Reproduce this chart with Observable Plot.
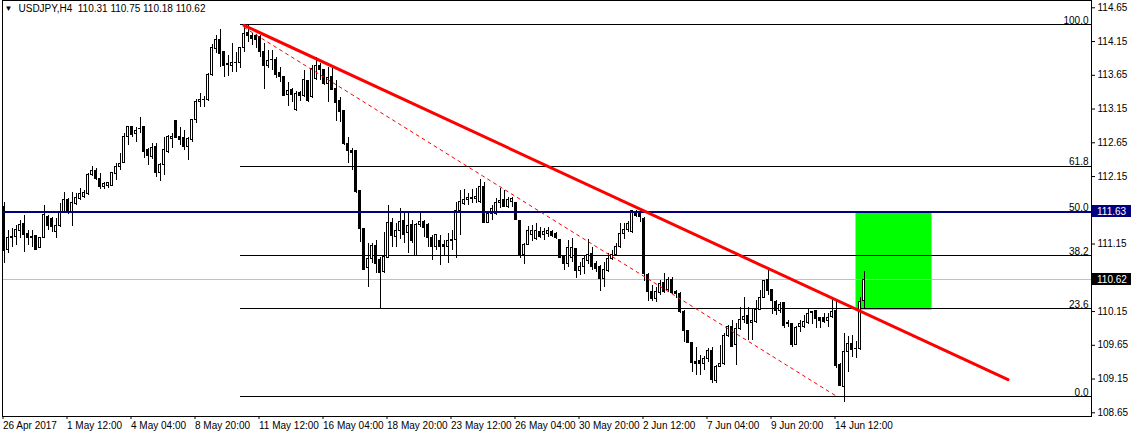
<!DOCTYPE html>
<html>
<head>
<meta charset="utf-8">
<script src="https://cdn.jsdelivr.net/npm/d3@7"></script>
<script src="https://cdn.jsdelivr.net/npm/@observablehq/plot@0.6"></script>
<style>
html,body{margin:0;padding:0;background:#fff;}
svg{display:block;}
</style>
</head>
<body>
<div id="chart"></div>
<script>
const symbol = "USDJPY";
const timeframe = "H4";

// H4 candles (bar 0 = first visible bar)
const opens = [111.70,111.055,111.24,111.252,111.341,111.44,111.292,111.25,111.262,111.094,
111.242,111.548,111.52,111.326,111.41,111.608,111.805,111.608,111.736,111.82,
111.845,111.894,112.166,112.23,112.116,111.993,112.017,112.017,112.181,112.289,
112.349,112.743,112.882,112.773,112.852,112.882,112.536,112.437,112.595,112.2,
112.314,112.511,112.709,112.971,112.743,112.724,112.595,112.694,112.981,113.252,
113.287,113.277,113.647,114.042,114.176,113.993,113.80,113.795,113.835,113.835,
114.052,114.279,114.23,114.23,114.215,113.993,113.785,113.87,113.87,113.687,
113.622,113.361,113.425,113.129,113.39,113.341,113.558,113.326,113.588,113.795,
113.721,113.524,113.622,113.449,113.267,113.128,112.625,112.526,112.526,111.933,
111.375,110.797,110.931,111.128,110.916,110.733,110.946,111.459,111.252,111.35,
111.488,111.311,111.425,110.98,111.439,111.479,111.425,111.242,111.104,111.202,
111.143,111.113,111.192,111.212,111.637,111.745,111.804,111.82,111.82,111.77,
112.002,111.459,111.597,111.597,111.755,111.804,111.696,111.77,111.755,111.498,
110.995,111.143,111.291,111.227,111.326,111.291,111.30,111.326,111.301,111.212,
110.966,110.847,110.946,111.079,110.748,110.807,110.906,111.005,110.857,110.817,
110.635,110.748,110.931,110.995,111.104,111.301,111.36,111.326,111.622,111.607,
111.523,110.684,110.437,110.339,110.422,110.571,110.462,110.61,110.437,110.413,
110.141,109.86,109.682,109.40,109.415,109.376,109.45,109.564,109.119,109.326,
109.366,109.795,109.919,109.647,109.894,110.018,110.077,109.98,110.00,110.175,
110.353,110.61,110.471,110.289,110.155,110.274,109.978,109.958,109.661,109.918,
109.928,109.978,110.126,110.155,110.057,110.057,110.007,110.067,110.155,109.365,
109.039,109.548,109.672,109.59,109.59,110.31];
const highs = [111.77,111.351,111.376,111.425,111.499,111.573,111.351,111.351,111.262,111.242,
111.721,111.573,111.548,111.524,111.746,111.919,111.82,111.919,111.894,111.968,
111.944,112.19,112.299,112.264,112.19,112.067,112.067,112.215,112.339,112.487,
112.783,112.892,112.892,112.872,113.03,112.882,112.561,112.645,112.635,112.349,
112.734,112.758,112.793,112.981,112.882,112.832,112.734,112.99,113.287,113.376,
113.336,113.672,114.106,114.24,114.324,113.993,113.943,114.116,113.983,114.067,
114.363,114.40,114.265,114.25,114.24,114.116,114.017,114.017,113.919,113.77,
113.622,113.548,113.45,113.41,113.41,113.721,113.573,113.795,113.919,113.82,
113.721,113.77,113.746,113.573,113.326,113.128,112.733,112.56,112.526,111.933,
111.375,111.153,111.163,111.202,110.946,111.326,111.721,111.523,111.449,111.672,
111.597,111.622,111.498,111.449,111.597,111.498,111.449,111.277,111.277,111.276,
111.202,111.30,111.35,111.77,111.943,111.953,111.893,111.953,111.968,112.10,
112.066,111.597,111.72,111.82,111.968,111.943,111.844,111.834,111.755,111.498,
111.153,111.409,111.424,111.449,111.40,111.375,111.40,111.35,111.326,111.212,
110.98,111.202,111.227,111.079,110.881,110.98,111.212,111.104,110.896,110.832,
110.881,111.005,111.054,111.153,111.449,111.449,111.489,111.647,111.647,111.647,
111.548,110.709,110.536,110.511,110.61,110.709,110.66,110.66,110.462,110.437,
110.166,109.87,109.697,109.623,109.499,109.484,109.598,109.613,109.351,109.647,
109.82,109.944,110.018,109.968,110.205,110.363,110.215,110.19,110.313,110.461,
110.61,110.782,110.471,110.313,110.289,110.274,110.017,109.958,109.928,110.017,
110.091,110.19,110.155,110.165,110.067,110.116,110.116,110.363,110.313,109.375,
109.829,109.78,109.79,109.70,110.36,110.75];
const lows = [110.86,111.005,111.104,111.129,111.227,111.03,111.129,111.104,111.055,111.08,
111.227,111.351,111.326,111.227,111.40,111.598,111.59,111.41,111.72,111.80,
111.82,111.87,112.15,112.09,111.954,111.954,111.968,112.00,112.092,112.24,
112.339,112.61,112.734,112.66,112.793,112.413,112.314,112.398,112.141,112.082,
112.166,112.487,112.561,112.709,112.61,112.536,112.388,112.66,112.931,113.168,
113.168,113.267,113.632,113.968,113.77,113.622,113.637,113.687,113.687,113.746,
113.993,114.141,114.09,114.05,113.919,113.44,113.756,113.72,113.598,113.548,
113.34,113.193,113.243,113.114,113.26,113.326,113.252,113.31,113.573,113.573,
113.50,113.252,113.424,112.97,112.956,112.61,112.348,112.24,111.894,111.178,
110.758,110.501,110.857,110.718,110.19,110.718,110.931,111.104,111.104,111.212,
111.153,111.015,111.153,110.965,111.40,111.25,111.094,110.906,111.054,110.832,
110.98,110.856,111.054,110.93,111.276,111.72,111.72,111.745,111.745,111.745,
111.449,111.449,111.498,111.572,111.671,111.696,111.671,111.696,111.498,110.93,
110.846,111.128,111.192,111.202,111.227,111.202,111.25,111.242,111.212,110.931,
110.758,110.807,110.882,110.634,110.684,110.699,110.847,110.758,110.733,110.452,
110.501,110.733,110.906,110.98,111.079,111.212,111.326,111.311,111.548,111.474,
110.60,110.304,110.304,110.29,110.388,110.422,110.437,110.403,110.339,110.126,
109.697,109.672,109.252,109.203,109.203,109.277,109.40,109.09,109.09,109.316,
109.351,109.771,109.623,109.351,109.87,109.968,109.721,109.72,109.978,110.165,
110.338,110.388,110.106,110.091,110.116,109.894,109.909,109.612,109.647,109.845,
109.894,109.958,109.958,109.894,109.894,109.968,109.909,110.042,109.301,109.054,
108.80,109.25,109.47,109.45,109.58,110.18];
const closes = [111.05,111.242,111.25,111.351,111.425,111.277,111.242,111.24,111.065,111.242,
111.573,111.41,111.40,111.41,111.608,111.805,111.608,111.756,111.835,111.884,
111.904,112.166,112.23,112.116,111.993,112.042,112.052,112.20,112.289,112.339,
112.743,112.882,112.758,112.832,112.857,112.511,112.447,112.576,112.20,112.314,
112.536,112.743,112.734,112.724,112.694,112.595,112.709,112.981,113.252,113.287,
113.29,113.647,114.057,114.176,113.968,113.785,113.81,113.835,113.838,114.052,
114.264,114.23,114.19,114.18,113.993,113.795,113.855,113.875,113.657,113.622,
113.341,113.41,113.361,113.376,113.34,113.573,113.262,113.746,113.785,113.721,
113.524,113.608,113.434,113.237,113.104,112.635,112.526,112.506,111.918,111.375,
110.768,110.931,111.128,110.857,110.718,110.955,111.459,111.262,111.35,111.474,
111.291,111.41,111.202,111.439,111.479,111.39,111.242,111.104,111.277,111.104,
111.113,111.192,111.212,111.637,111.77,111.804,111.834,111.834,111.854,112.002,
111.459,111.597,111.671,111.755,111.794,111.706,111.804,111.82,111.508,110.995,
111.143,111.34,111.34,111.34,111.261,111.326,111.34,111.262,111.242,110.946,
110.847,111.094,111.094,110.748,110.817,110.931,110.995,110.807,110.783,110.635,
110.758,110.931,110.995,111.104,111.301,111.36,111.449,111.637,111.558,111.548,
110.709,110.437,110.339,110.437,110.561,110.437,110.62,110.422,110.413,110.141,
109.86,109.682,109.386,109.376,109.366,109.45,109.564,109.129,109.326,109.366,
109.795,109.919,109.632,109.894,110.018,110.067,109.968,110.017,110.175,110.353,
110.60,110.452,110.304,110.165,110.254,109.943,109.958,109.647,109.908,109.958,
109.992,110.116,110.141,110.042,110.017,109.992,110.057,110.141,109.336,109.054,
109.548,109.672,109.583,109.598,110.29,110.62];

// time axis labels and the bars they sit on
const dateLabels = ["26 Apr 2017","1 May 12:00","4 May 04:00","8 May 20:00","11 May 12:00","16 May 04:00",
"18 May 20:00","23 May 12:00","26 May 04:00","30 May 20:00","2 Jun 12:00","7 Jun 04:00","9 Jun 20:00","14 Jun 12:00"];
const dateLabelBars = [0,16,32,48,64,80,96,112,128,144,160,176,192,208];

// price axis tick labels
const priceTicks = [114.65,114.15,113.65,113.15,112.65,112.15,111.15,110.15,109.65,109.15,108.65];

// drawn objects
const fibLevels = [
  {label:"100.0", price:114.40},
  {label:"61.8", price:112.30},
  {label:"50.0", price:111.63},
  {label:"38.2", price:110.98},
  {label:"23.6", price:110.19},
  {label:"0.0", price:108.89}
];
const fibStartBar = 59;
const trendSolid = [{bar:60, price:114.39},{bar:251, price:109.14}];
const trendDashed = [{bar:60, price:114.36},{bar:208, price:108.90}];
const targetBox = [{bar1:213, bar2:232, top:111.63, bottom:110.17}];
const levelLine = 111.63;
const bidLine = 110.62;
const priceTags = [{price:111.63, bg:"#000080"},{price:110.62, bg:"#000000"}];

const candles = opens.map((o,i)=>({bar:i, open:o, high:highs[i], low:lows[i], close:closes[i]}));
const last = candles[candles.length-1];
const titleText = `${symbol},${timeframe}  ${last.open.toFixed(2)} ${last.high.toFixed(2)} ${last.low.toFixed(2)} ${last.close.toFixed(2)}`;

const xDomain = [-0.375, 271.875];
const yDomain = [108.595, 114.758];
const FONT = "'Liberation Sans', Arial, sans-serif";

function tagMark(index, scales, values, dimensions) {
  const g = d3.create("svg:g").attr("text-anchor", "start");
  const x0 = dimensions.width - dimensions.marginRight + 1;
  for (const t of priceTags) {
    const y = Math.round(scales.y(t.price));
    g.append("rect").attr("x", x0).attr("y", y - 6).attr("width", dimensions.marginRight).attr("height", 12).attr("fill", t.bg);
    g.append("text").attr("x", x0 + 5).attr("y", y).attr("dy", "0.35em").attr("text-anchor", "start")
      .attr("fill", "#fff").attr("font-size", 10).attr("font-family", FONT).text(t.price.toFixed(2));
  }
  return g.node();
}

const chart = Plot.plot({
  width: 1131,
  height: 437,
  marginLeft: 2,
  marginRight: 40,
  marginTop: 0,
  marginBottom: 21,
  style: {fontFamily: FONT, fontSize: "10px", background: "#fff", color: "#000"},
  x: {domain: xDomain},
  y: {domain: yDomain},
  marks: [
    Plot.rect(targetBox, {x1: "bar1", x2: "bar2", y1: "top", y2: "bottom", fill: "#00ff00"}),
    Plot.ruleY([bidLine], {stroke: "#c0c0c0", shapeRendering: "crispEdges"}),
    Plot.ruleY(fibLevels, {y: "price", x1: fibStartBar, x2: xDomain[1], stroke: "#000", shapeRendering: "crispEdges"}),
    Plot.text(fibLevels, {y: "price", text: "label", frameAnchor: "right", textAnchor: "end", lineAnchor: "bottom", dx: -3, dy: -1, fill: "#000", fontSize: 10}),
    Plot.ruleX(candles, {x: "bar", y1: "low", y2: "high", stroke: "#000", shapeRendering: "crispEdges"}),
    Plot.rect(candles, {x1: d => d.bar - 0.25, x2: d => d.bar + 0.25, y1: "open", y2: "close",
      fill: d => d.close >= d.open ? "#fff" : "#000", stroke: "#000", strokeWidth: 1, shapeRendering: "crispEdges"}),
    Plot.ruleY([levelLine], {stroke: "#000080", strokeWidth: 2, shapeRendering: "crispEdges"}),
    Plot.line(trendSolid, {x: "bar", y: "price", stroke: "#ff0000", strokeWidth: 3}),
    Plot.line(trendDashed, {x: "bar", y: "price", stroke: "#ff0000", strokeWidth: 1, strokeDasharray: "3,4"}),
    Plot.frame({stroke: "#000", shapeRendering: "crispEdges"}),
    Plot.axisY({anchor: "right", ticks: priceTicks, tickFormat: d => d.toFixed(2), tickSize: 3, tickPadding: 3, label: null, fontSize: 10}),
    Plot.axisX({anchor: "bottom", ticks: dateLabelBars, tickFormat: d => dateLabels[dateLabelBars.indexOf(d)], textAnchor: "start", tickSize: 3, tickPadding: 2, dx: -1, label: null, fontSize: 10}),
    tagMark,
    Plot.text(["▼"], {frameAnchor: "top-left", dx: 2, dy: 5, lineAnchor: "top", fontSize: 8, fill: "#000"}),
    Plot.text([titleText], {frameAnchor: "top-left", dx: 16, dy: 4, lineAnchor: "top", fontSize: 10, fill: "#000"})
  ]
});
document.getElementById("chart").appendChild(chart);
</script>
</body>
</html>
